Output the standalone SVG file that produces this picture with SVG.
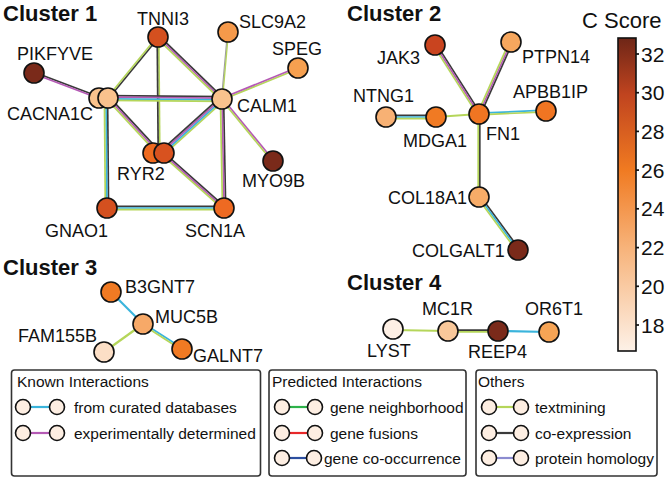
<svg xmlns="http://www.w3.org/2000/svg" width="671" height="481" viewBox="0 0 671 481">
<style>
text{font-family:"Liberation Sans",Arial,sans-serif;fill:#111}
.t{font-size:22px;font-weight:bold}
.l{font-size:18px}
.lg{font-size:15.5px}
.tk{font-size:21px}
.n{stroke:#111;stroke-width:1.6}
.lc{fill:#fdeee2;stroke:#111;stroke-width:1.6}
.box{fill:#fff;stroke:#333;stroke-width:1.6}
line{stroke-width:1.7;fill:none}
.k{stroke:#3a3a3a}.g{stroke:#b5d65a}.p{stroke:#b55ab5}.c{stroke:#3ab4dc}
.gn{stroke:#2eb34a}.r{stroke:#e8282a}.b{stroke:#2c4fa0}.h{stroke:#8c8cd0}
.w2{stroke-width:2.2}
</style>
<defs>
<linearGradient id="cs" x1="0" y1="0" x2="0" y2="1">
<stop offset="0" stop-color="#6e2617"/>
<stop offset="0.18" stop-color="#c0441f"/>
<stop offset="0.42" stop-color="#f07a21"/>
<stop offset="0.67" stop-color="#f7b37a"/>
<stop offset="1" stop-color="#fdf1e7"/>
</linearGradient>
</defs>
<rect width="671" height="481" fill="#fff"/>

<g id="connectors">
<!-- Cluster 1 -->
<g transform="translate(34 73) rotate(20.75)"><line class="k" x2="70.6" y1="-0.8" y2="-0.8"/><line class="p" x2="70.6" y1="0.8" y2="0.8"/></g>
<g transform="translate(158 37) rotate(129.34)"><line class="k" x2="78.9" y1="-0.8" y2="-0.8"/><line class="g" x2="78.9" y1="0.8" y2="0.8"/></g>
<g transform="translate(158 37) rotate(89.5)"><line class="g" x2="116" y1="-0.8" y2="-0.8"/><line class="k" x2="116" y1="0.8" y2="0.8"/></g>
<g transform="translate(158 37) rotate(44.1)"><line class="k" x2="89.1" y1="-1.6" y2="-1.6"/><line class="p" x2="89.1"/><line class="g" x2="89.1" y1="1.6" y2="1.6"/></g>
<g transform="translate(228 32) rotate(95.1)"><line class="g" x2="67.3" y1="-0.5" y2="-0.5" style="stroke-width:1.3"/><line class="k" x2="67.3" y1="0.6" y2="0.6" style="stroke-width:0.8;opacity:0.6"/></g>
<g transform="translate(298 68) rotate(157.8)"><line class="g" x2="82.1" y1="-0.8" y2="-0.8"/><line class="p" x2="82.1" y1="0.8" y2="0.8"/></g>
<g transform="translate(108 98) rotate(0.5)"><line class="k" x2="114" y1="-2.4" y2="-2.4"/><line class="p" x2="114" y1="-0.8" y2="-0.8"/><line class="c" x2="114" y1="0.8" y2="0.8"/><line class="g" x2="114" y1="2.4" y2="2.4"/></g>
<g transform="translate(108 98) rotate(47.2)"><line class="k" x2="75" y1="-1.6" y2="-1.6"/><line class="p" x2="75"/><line class="g" x2="75" y1="1.6" y2="1.6"/></g>
<g transform="translate(106 98) rotate(89.5)"><line class="k" x2="110" y1="-1.6" y2="-1.6"/><line class="c" x2="110"/><line class="g" x2="110" y1="1.6" y2="1.6"/></g>
<g transform="translate(222 99) rotate(138)"><line class="g" x2="80.7" y1="-2.4" y2="-2.4"/><line class="c" x2="80.7" y1="-0.8" y2="-0.8"/><line class="p" x2="80.7" y1="0.8" y2="0.8"/><line class="k" x2="80.7" y1="2.4" y2="2.4"/></g>
<g transform="translate(222 99) rotate(50.6)"><line class="p" x2="80.3" y1="-0.8" y2="-0.8"/><line class="g" x2="80.3" y1="0.8" y2="0.8"/></g>
<g transform="translate(222 99) rotate(88.9)"><line class="k" x2="109" y1="-1.6" y2="-1.6"/><line class="p" x2="109"/><line class="g" x2="109" y1="1.6" y2="1.6"/></g>
<g transform="translate(162 153) rotate(41.6)"><line class="k" x2="82.9" y1="-1.6" y2="-1.6"/><line class="p" x2="82.9"/><line class="g" x2="82.9" y1="1.6" y2="1.6"/></g>
<g transform="translate(107 208)"><line class="k" x2="117" y1="-1.6" y2="-1.6"/><line class="c" x2="117"/><line class="g" x2="117" y1="1.6" y2="1.6"/></g>
<!-- Cluster 2 -->
<g transform="translate(435 45) rotate(57.5)"><line class="k" x2="81.8" y1="-1.6" y2="-1.6"/><line class="p" x2="81.8"/><line class="g" x2="81.8" y1="1.6" y2="1.6"/></g>
<g transform="translate(511 42) rotate(113.96)"><line class="k" x2="78.8" y1="-1.6" y2="-1.6"/><line class="p" x2="78.8"/><line class="g" x2="78.8" y1="1.6" y2="1.6"/></g>
<g transform="translate(386 117)"><line class="k" x2="50" y1="-1.6" y2="-1.6"/><line class="c" x2="50"/><line class="g" x2="50" y1="1.6" y2="1.6"/></g>
<g transform="translate(436 117) rotate(-4)"><line class="g w2" x2="43.1"/></g>
<g transform="translate(479 114) rotate(-2.56)"><line class="c" x2="67.1" y1="-0.8" y2="-0.8"/><line class="g" x2="67.1" y1="0.8" y2="0.8"/></g>
<g transform="translate(479 114) rotate(90)"><line class="k" x2="83" y1="-0.8" y2="-0.8"/><line class="g" x2="83" y1="0.8" y2="0.8"/></g>
<g transform="translate(479 197) rotate(53.65)"><line class="k" x2="65.8" y1="-1.6" y2="-1.6"/><line class="c" x2="65.8"/><line class="g" x2="65.8" y1="1.6" y2="1.6"/></g>
<!-- Cluster 3 -->
<line class="c w2" x1="111" y1="292" x2="143" y2="324"/>
<line class="g w2" x1="143" y1="324" x2="104" y2="352"/>
<g transform="translate(143 324) rotate(32.66)"><line class="c" x2="46.3" y1="-0.8" y2="-0.8"/><line class="g" x2="46.3" y1="0.8" y2="0.8"/></g>
<!-- Cluster 4 -->
<line class="g w2" x1="393" y1="330" x2="448" y2="331"/>
<g transform="translate(448 331)"><line class="k" x2="50" y1="-0.8" y2="-0.8"/><line class="g" x2="50" y1="0.8" y2="0.8"/></g>
<line class="c w2" x1="498" y1="331" x2="549" y2="332"/>
</g>

<text class="t" x="3" y="21">Cluster 1</text>
<text class="t" x="347" y="21">Cluster 2</text>
<text class="t" x="3" y="275">Cluster 3</text>
<text class="t" x="347" y="290">Cluster 4</text>

<g id="TNNI3"><circle class="n" cx="158" cy="37" r="10" fill="#d4501f"/><text class="l" x="137" y="25">TNNI3</text></g>
<g id="SLC9A2"><circle class="n" cx="228" cy="32" r="10" fill="#f5994a"/><text class="l" x="239" y="28">SLC9A2</text></g>
<g id="SPEG"><circle class="n" cx="298" cy="68" r="10" fill="#f6a050"/><text class="l" x="272" y="55">SPEG</text></g>
<g id="PIKFYVE"><circle class="n" cx="34" cy="73" r="10" fill="#7a2a1a"/><text class="l" x="17" y="60">PIKFYVE</text></g>
<g id="CACNA1C"><circle class="n" cx="99" cy="98" r="10" fill="#f9c28d"/><circle class="n" cx="108" cy="98" r="10" fill="#f9c28d"/><text class="l" x="7" y="120">CACNA1C</text></g>
<g id="CALM1"><circle class="n" cx="222" cy="99" r="10" fill="#f9c28d"/><text class="l" x="237" y="112">CALM1</text></g>
<g id="RYR2"><circle class="n" cx="153" cy="153" r="10" fill="#ee6a1f"/><circle class="n" cx="164" cy="153" r="10" fill="#d8521f"/><text class="l" x="117" y="180">RYR2</text></g>
<g id="MYO9B"><circle class="n" cx="273" cy="161" r="10" fill="#7a2a1a"/><text class="l" x="242" y="187">MYO9B</text></g>
<g id="GNAO1"><circle class="n" cx="107" cy="208" r="10" fill="#d4501f"/><text class="l" x="45" y="237">GNAO1</text></g>
<g id="SCN1A"><circle class="n" cx="224" cy="208" r="10" fill="#ee6a22"/><text class="l" x="185" y="237">SCN1A</text></g>

<g id="JAK3"><circle class="n" cx="435" cy="45" r="10" fill="#c9441f"/><text class="l" x="377" y="64">JAK3</text></g>
<g id="PTPN14"><circle class="n" cx="511" cy="42" r="10" fill="#f6a75e"/><text class="l" x="522" y="63">PTPN14</text></g>
<g id="NTNG1"><circle class="n" cx="386" cy="117" r="10" fill="#f7b174"/><text class="l" x="353" y="102">NTNG1</text></g>
<g id="MDGA1"><circle class="n" cx="436" cy="117" r="10" fill="#f07a23"/><text class="l" x="403" y="147">MDGA1</text></g>
<g id="FN1"><circle class="n" cx="479" cy="114" r="10" fill="#f07522"/><text class="l" x="486" y="140">FN1</text></g>
<g id="APBB1IP"><circle class="n" cx="546" cy="111" r="10" fill="#f07522"/><text class="l" x="513" y="98">APBB1IP</text></g>
<g id="COL18A1"><circle class="n" cx="479" cy="197" r="10" fill="#f7ac68"/><text class="l" x="388" y="204">COL18A1</text></g>
<g id="COLGALT1"><circle class="n" cx="518" cy="250" r="10" fill="#7a2a1a"/><text class="l" x="412" y="257">COLGALT1</text></g>

<g id="B3GNT7"><circle class="n" cx="111" cy="292" r="10" fill="#f07a23"/><text class="l" x="125" y="293">B3GNT7</text></g>
<g id="MUC5B"><circle class="n" cx="143" cy="324" r="10" fill="#f7a968"/><text class="l" x="155" y="323">MUC5B</text></g>
<g id="FAM155B"><circle class="n" cx="104" cy="352" r="10" fill="#fcdfc6"/><text class="l" x="18" y="342">FAM155B</text></g>
<g id="GALNT7"><circle class="n" cx="182" cy="349" r="10" fill="#f07a23"/><text class="l" x="193" y="362">GALNT7</text></g>

<g id="LYST"><circle class="n" cx="393" cy="329" r="10" fill="#fdefe4"/><text class="l" x="367" y="357">LYST</text></g>
<g id="MC1R"><circle class="n" cx="448" cy="331" r="10" fill="#f9c89a"/><text class="l" x="422" y="315">MC1R</text></g>
<g id="REEP4"><circle class="n" cx="498" cy="331" r="10" fill="#7a2a1a"/><text class="l" x="468" y="358">REEP4</text></g>
<g id="OR6T1"><circle class="n" cx="549" cy="332" r="10" fill="#f6a455"/><text class="l" x="525" y="315">OR6T1</text></g>

<g id="colorbar">
<text x="582" y="28" style="font-size:22px">C Score</text>
<rect x="618" y="38" width="18" height="313" fill="url(#cs)" stroke="#111" stroke-width="1.6"/>
<g stroke="#111" stroke-width="1.4">
<line x1="636" y1="54" x2="639" y2="54"/><line x1="636" y1="92.7" x2="639" y2="92.7"/>
<line x1="636" y1="131.4" x2="639" y2="131.4"/><line x1="636" y1="170.1" x2="639" y2="170.1"/>
<line x1="636" y1="208.8" x2="639" y2="208.8"/><line x1="636" y1="247.6" x2="639" y2="247.6"/>
<line x1="636" y1="286.3" x2="639" y2="286.3"/><line x1="636" y1="325" x2="639" y2="325"/>
</g>
<text class="tk" x="641" y="61.5">32</text>
<text class="tk" x="641" y="100.2">30</text>
<text class="tk" x="641" y="138.9">28</text>
<text class="tk" x="641" y="177.6">26</text>
<text class="tk" x="641" y="216.3">24</text>
<text class="tk" x="641" y="255.1">22</text>
<text class="tk" x="641" y="293.8">20</text>
<text class="tk" x="641" y="332.5">18</text>
</g>

<g id="legend-known">
<rect class="box" x="11.5" y="370" width="249" height="106" rx="3"/>
<text class="lg" x="17" y="387">Known Interactions</text>
<line class="c w2" x1="30" y1="407" x2="50" y2="407"/>
<circle class="lc" cx="23" cy="407" r="7.5"/><circle class="lc" cx="57" cy="407" r="7.5"/>
<text class="lg" x="74" y="412.5">from curated databases</text>
<line class="p w2" x1="30" y1="433" x2="50" y2="433"/>
<circle class="lc" cx="23" cy="433" r="7.5"/><circle class="lc" cx="57" cy="433" r="7.5"/>
<text class="lg" x="74" y="438.5">experimentally determined</text>
</g>
<g id="legend-predicted">
<rect class="box" x="269" y="370" width="197" height="106" rx="3"/>
<text class="lg" x="272" y="387">Predicted Interactions</text>
<line class="gn w2" x1="289" y1="407" x2="308" y2="407"/>
<circle class="lc" cx="282" cy="407" r="7.5"/><circle class="lc" cx="315" cy="407" r="7.5"/>
<text class="lg" x="330" y="412.5">gene neighborhood</text>
<line class="r w2" x1="289" y1="433" x2="308" y2="433"/>
<circle class="lc" cx="282" cy="433" r="7.5"/><circle class="lc" cx="315" cy="433" r="7.5"/>
<text class="lg" x="330" y="438.5">gene fusions</text>
<line class="b w2" x1="289" y1="458" x2="307" y2="458"/>
<circle class="lc" cx="282" cy="458" r="7.5"/><circle class="lc" cx="314" cy="458" r="7.5"/>
<text class="lg" x="324" y="463.5">gene co-occurrence</text>
</g>
<g id="legend-others">
<rect class="box" x="476" y="370" width="181" height="106" rx="3"/>
<text class="lg" x="478" y="387">Others</text>
<line class="g w2" x1="496" y1="407" x2="514" y2="407"/>
<circle class="lc" cx="489" cy="407" r="7.5"/><circle class="lc" cx="521" cy="407" r="7.5"/>
<text class="lg" x="535" y="412.5">textmining</text>
<line class="k w2" x1="496" y1="433" x2="514" y2="433"/>
<circle class="lc" cx="489" cy="433" r="7.5"/><circle class="lc" cx="521" cy="433" r="7.5"/>
<text class="lg" x="535" y="438.5">co-expression</text>
<line class="h w2" x1="496" y1="458" x2="514" y2="458"/>
<circle class="lc" cx="489" cy="458" r="7.5"/><circle class="lc" cx="521" cy="458" r="7.5"/>
<text class="lg" x="535" y="463.5">protein homology</text>
</g>
</svg>
